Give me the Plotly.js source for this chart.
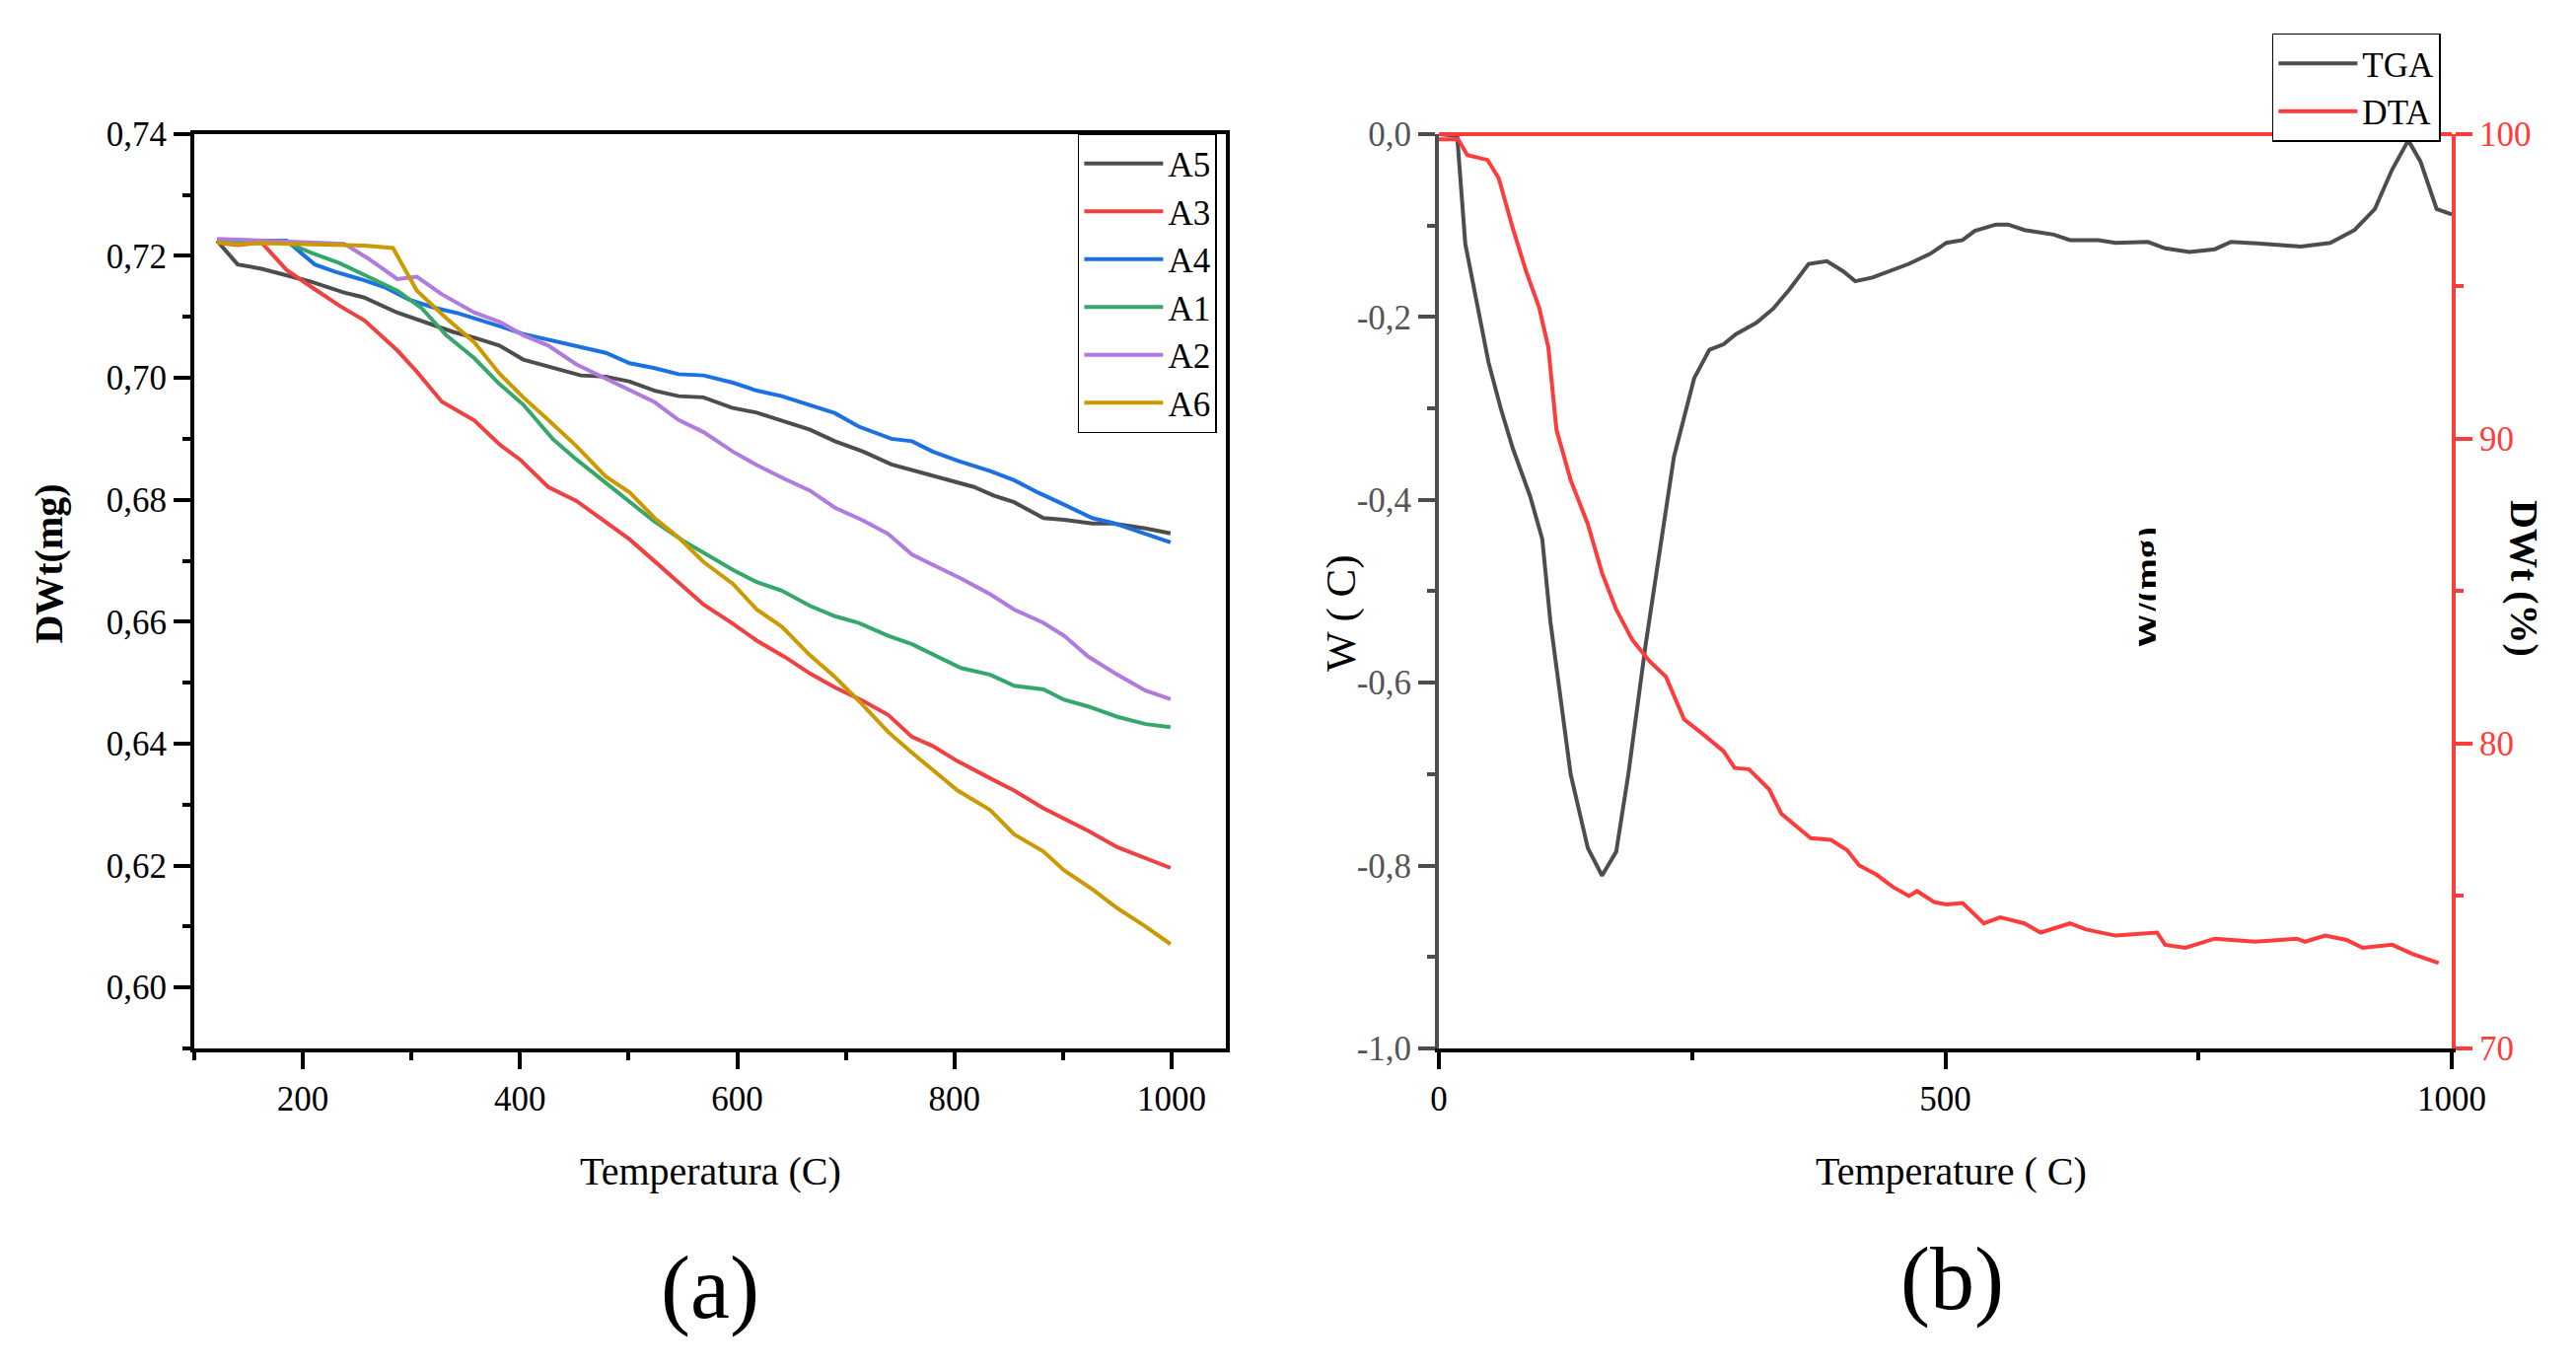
<!DOCTYPE html>
<html>
<head>
<meta charset="utf-8">
<script src="https://cdn.plot.ly/plotly-3.0.1.min.js"></script>
<style>
  body { margin: 0; background: #fff; }
  #chart { width: 2612px; height: 1388px; }
</style>
</head>
<body>
<div id="chart"></div>
<script>
// ---- panel (a): DWt (mg) vs temperature ----
var a5X = [121,140,162,185,207,238,256,287,320,339,358,381,403,426,456,479,501,524,546,569,595,618,644,667,690,716,742,765,795,818,836,855,882,901,927,946,976,999];
var a5Y = [0.7225,0.7186,0.7179,0.7168,0.7158,0.7140,0.7132,0.7107,0.7087,0.7075,0.7066,0.7053,0.7030,0.7019,0.7004,0.7002,0.6994,0.6979,0.6970,0.6968,0.6951,0.6943,0.6928,0.6915,0.6896,0.6879,0.6858,0.6847,0.6832,0.6821,0.6807,0.6796,0.6770,0.6767,0.6761,0.6761,0.6753,0.6745];

var a3X = [121,140,162,185,208,234,257,287,305,328,358,381,400,426,452,479,501,524,546,569,595,618,644,667,690,716,739,761,780,803,833,855,882,901,923,950,976,999];
var a3Y = [0.7222,0.7218,0.7222,0.7177,0.7149,0.7118,0.7094,0.7045,0.7010,0.6961,0.6930,0.6891,0.6866,0.6821,0.6798,0.6764,0.6735,0.6699,0.6665,0.6628,0.6598,0.6569,0.6542,0.6515,0.6492,0.6470,0.6447,0.6411,0.6396,0.6371,0.6343,0.6323,0.6294,0.6277,0.6257,0.6230,0.6212,0.6196];

var a4X = [121,185,211,230,253,275,298,321,343,366,388,403,434,456,479,501,524,546,569,596,618,641,667,690,712,742,761,780,803,833,855,878,901,927,946,972,999];
var a4Y = [0.7225,0.7225,0.7186,0.7174,0.7162,0.7149,0.7128,0.7115,0.7106,0.7094,0.7081,0.7072,0.7060,0.7051,0.7041,0.7024,0.7016,0.7006,0.7004,0.6992,0.6979,0.6970,0.6956,0.6942,0.6920,0.6900,0.6896,0.6879,0.6864,0.6847,0.6832,0.6811,0.6792,0.6770,0.6762,0.6747,0.6730];

var a1X = [121,185,208,234,260,287,309,332,358,381,403,430,452,479,501,524,550,569,596,618,641,667,690,712,739,761,784,806,833,855,882,901,923,950,976,999];
var a1Y = [0.7225,0.7222,0.7205,0.7188,0.7166,0.7143,0.7115,0.7070,0.7032,0.6990,0.6956,0.6900,0.6866,0.6828,0.6798,0.6764,0.6733,0.6713,0.6685,0.6665,0.6651,0.6626,0.6609,0.6598,0.6577,0.6563,0.6543,0.6524,0.6513,0.6495,0.6489,0.6472,0.6461,0.6444,0.6432,0.6427];

var a2X = [121,170,238,260,287,305,328,358,381,403,426,452,479,501,524,546,569,596,618,644,667,690,716,739,761,784,806,833,855,882,901,923,950,976,999];
var a2Y = [0.7228,0.7225,0.7220,0.7196,0.7162,0.7166,0.7137,0.7107,0.7092,0.7070,0.7053,0.7022,0.6999,0.6981,0.6960,0.6931,0.6911,0.6879,0.6857,0.6834,0.6815,0.6787,0.6766,0.6744,0.6710,0.6690,0.6671,0.6645,0.6620,0.6598,0.6577,0.6543,0.6513,0.6487,0.6473];

var a6X = [121,140,162,200,257,283,305,332,358,381,403,426,452,479,501,524,546,569,596,618,641,667,690,712,739,761,780,803,833,855,882,901,927,950,976,999];
var a6Y = [0.7222,0.7219,0.7221,0.7220,0.7217,0.7213,0.7143,0.7098,0.7058,0.7007,0.6968,0.6931,0.6888,0.6838,0.6812,0.6770,0.6738,0.6698,0.6662,0.6620,0.6592,0.6545,0.6509,0.6470,0.6419,0.6385,0.6357,0.6323,0.6291,0.6251,0.6223,0.6192,0.6161,0.6130,0.6100,0.6071];

// ---- panel (b): TGA / DTA ----
var tgaX = [0,18,26,37,49,61,73,90,102,110,118,130,147,161,175,187,204,220,232,242,252,267,281,293,314,330,346,365,383,399,411,428,444,464,485,501,517,529,550,562,578,607,623,651,668,700,717,741,766,782,814,851,880,904,924,941,957,969,985,1000];
var tgaY = [0,-0.002,-0.12,-0.18,-0.25,-0.30,-0.344,-0.396,-0.443,-0.533,-0.602,-0.70,-0.781,-0.811,-0.785,-0.70,-0.559,-0.438,-0.353,-0.31,-0.267,-0.236,-0.230,-0.219,-0.206,-0.191,-0.170,-0.142,-0.139,-0.150,-0.161,-0.157,-0.150,-0.142,-0.131,-0.119,-0.116,-0.106,-0.099,-0.099,-0.105,-0.110,-0.116,-0.116,-0.119,-0.118,-0.125,-0.129,-0.126,-0.118,-0.120,-0.123,-0.119,-0.105,-0.082,-0.039,-0.007,-0.030,-0.082,-0.088];

var dtaX = [0,19,28,48,59,73,86,99,108,116,130,147,161,175,191,208,224,242,261,281,292,306,326,338,367,387,403,415,432,448,464,472,489,501,517,538,554,578,594,623,639,668,709,717,737,766,806,847,855,875,896,912,941,961,987];
var dtaY = [99.83,99.83,99.31,99.15,98.55,96.9,95.5,94.3,93.0,90.3,88.65,87.2,85.6,84.4,83.4,82.7,82.2,80.8,80.3,79.75,79.2,79.16,78.5,77.7,76.9,76.84,76.5,76.0,75.7,75.3,75.0,75.16,74.8,74.72,74.77,74.1,74.3,74.1,73.8,74.1,73.9,73.7,73.8,73.4,73.3,73.6,73.5,73.6,73.5,73.7,73.56,73.3,73.4,73.1,72.8];

// tick labels (comma decimals, plain hyphen minus)
var aXTicks = [200, 400, 600, 800, 1000];
var aYTicks = [0.60, 0.62, 0.64, 0.66, 0.68, 0.70, 0.72, 0.74];
var aYLabels = ['0,60', '0,62', '0,64', '0,66', '0,68', '0,70', '0,72', '0,74'];
var bXTicks = [0, 500, 1000];
var bYTicks = [-1, -0.8, -0.6, -0.4, -0.2, 0];
var bYLabels = ['-1,0', '-0,8', '-0,6', '-0,4', '-0,2', '0,0'];
var bY2Ticks = [70, 80, 90, 100];

var serif = "'Liberation Serif', 'Times New Roman', serif";
var red = '#ff3c3c';
var gray = '#4d4d4d';

function line(x, y, name, color, xa, ya, leg) {
  return {
    x: x, y: y, name: name, type: 'scatter', mode: 'lines',
    line: {color: color, width: 4},
    xaxis: xa, yaxis: ya, legend: leg
  };
}

var data = [
  line(a5X, a5Y, 'A5', '#4d4d4d', 'x', 'y', 'legend'),
  line(a3X, a3Y, 'A3', '#f04040', 'x', 'y', 'legend'),
  line(a4X, a4Y, 'A4', '#1b71e2', 'x', 'y', 'legend'),
  line(a1X, a1Y, 'A1', '#36a76b', 'x', 'y', 'legend'),
  line(a2X, a2Y, 'A2', '#b07ade', 'x', 'y', 'legend'),
  line(a6X, a6Y, 'A6', '#cc9a00', 'x', 'y', 'legend'),
  line(tgaX, tgaY, 'TGA', gray, 'x2', 'y2', 'legend2'),
  line(dtaX, dtaY, 'DTA', red, 'x2', 'y3', 'legend2')
];

function axis(extra) {
  var base = {
    showline: true, linewidth: 4, linecolor: 'black',
    ticks: 'outside', ticklen: 17, tickwidth: 4, tickcolor: 'black',
    showgrid: false, zeroline: false,
    tickfont: {family: serif, size: 35, color: 'black'}
  };
  for (var k in extra) base[k] = extra[k];
  return base;
}

function minor(step, color) {
  return {ticks: 'outside', ticklen: 8, tickwidth: 4, tickcolor: color, dtick: step, tick0: 0, showgrid: false};
}

function label(text, x, y, size, angle) {
  return {text: text, xref: 'paper', yref: 'paper', x: x, y: y,
    xanchor: 'center', yanchor: 'middle', textangle: angle || 0,
    showarrow: false, font: {family: serif, size: size, color: 'black'}};
}

var plotY = [0.2342, 0.9021];

// half-hidden rotated label in the middle of panel (b)
var clipped = label('<b>W/(mg)</b>', 0.8334, 0.5706, 38, -90);
clipped.height = 17;
clipped.valign = 'middle';

var layout = {
  width: 2612, height: 1388,
  margin: {l: 0, r: 0, t: 0, b: 0},
  paper_bgcolor: 'white', plot_bgcolor: 'white',
  font: {family: serif, color: 'black'},
  xaxis: axis({domain: [0.0754, 0.4759], anchor: 'y', range: [100, 1050], mirror: true,
    tickmode: 'array', tickvals: aXTicks, minor: minor(100, 'black')}),
  yaxis: axis({domain: plotY, anchor: 'x', range: [0.59, 0.74], mirror: true,
    tickmode: 'array', tickvals: aYTicks, ticktext: aYLabels, minor: minor(0.01, 'black')}),
  xaxis2: axis({domain: [0.5586, 0.9518], anchor: 'y2', range: [0, 1000],
    tickmode: 'array', tickvals: bXTicks, minor: minor(250, 'black')}),
  yaxis2: axis({domain: plotY, anchor: 'x2', range: [-1, 0],
    linecolor: gray, tickcolor: gray,
    tickfont: {family: serif, size: 35, color: '#555555'},
    tickmode: 'array', tickvals: bYTicks, ticktext: bYLabels, minor: minor(0.1, gray)}),
  yaxis3: axis({overlaying: 'y2', side: 'right', anchor: 'x2', range: [70, 100],
    linecolor: red, tickcolor: red,
    tickfont: {family: serif, size: 35, color: red},
    tickmode: 'array', tickvals: bY2Ticks, minor: minor(5, red)}),
  legend: {
    x: 0.4724, xanchor: 'right', y: 0.9027, yanchor: 'top',
    bgcolor: 'white', bordercolor: 'black', borderwidth: 1.5,
    font: {family: serif, size: 35, color: 'black'}, itemwidth: 80
  },
  legend2: {
    x: 0.9475, xanchor: 'right', y: 0.9758, yanchor: 'top',
    bgcolor: 'white', bordercolor: 'black', borderwidth: 1.5,
    font: {family: serif, size: 35, color: 'black'}, itemwidth: 80
  },
  shapes: [
    {type: 'line', xref: 'x2 domain', yref: 'y2 domain', x0: 0, x1: 1, y0: 1, y1: 1,
     line: {color: red, width: 4}}
  ],
  annotations: [
    label('Temperatura (C)', 0.2757, 0.1441, 40),
    label('<b>DWt(mg)</b>', 0.0191, 0.5881, 40, -90),
    label('(a)', 0.2757, 0.0591, 90),
    label('Temperature ( C)', 0.7573, 0.1441, 40),
    label('W ( C)', 0.5207, 0.5519, 43, -90),
    label('<b>DWt (%)</b>', 0.9801, 0.5778, 40, 90),
    clipped,
    label('(b)', 0.7580, 0.0656, 90)
  ]
};

Plotly.newPlot('chart', data, layout, {displayModeBar: false, staticPlot: true});
</script>
</body>
</html>
